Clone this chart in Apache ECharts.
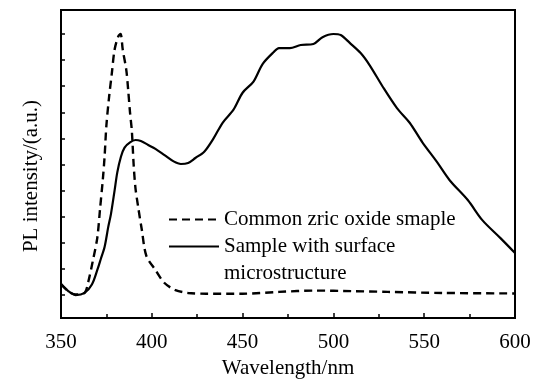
<!DOCTYPE html>
<html>
<head>
<meta charset="utf-8">
<script src="https://cdn.jsdelivr.net/npm/echarts@6/dist/echarts.min.js"></script>
<style>
  html, body { margin: 0; padding: 0; background: #fff; }
  #container { width: 535px; height: 379px; }
</style>
</head>
<body>
<div id="container"></div>
<script>
// common sample (dashed)
const commonWl = [350, 354, 358, 363, 365, 367.5, 370, 371.5, 373, 374, 375, 376.5, 378, 379.5, 381.5, 382.8,
  384, 386, 387, 388, 389, 390, 391, 392.5, 394.5, 397, 402, 407, 413, 420, 430, 450, 470, 490, 510, 530, 560, 600];
const commonInt = [0.42, 0.15, 0.02, 0.08, 0.5, 1.3, 2.2, 3.3, 4.4, 5.3, 6.5, 7.6, 8.5, 9.4, 9.9, 10.0,
  9.4, 8.6, 7.85, 7.0, 6.3, 5.0, 4.1, 3.37, 2.5, 1.5, 0.96, 0.46, 0.19, 0.08, 0.05, 0.05, 0.12, 0.17, 0.15, 0.12, 0.08, 0.06];

// sample with surface microstructure (solid)
const microWl = [350, 354, 358, 363, 367, 370, 372, 374, 376, 377.5, 379.5, 381, 383, 385, 388, 391, 394, 398,
  402, 407, 412, 416, 420, 424, 429, 434, 439, 445, 450, 456, 461, 467, 470, 476, 482, 489, 494, 500, 504,
  509, 515, 520, 527, 535, 542, 549, 557, 564, 574, 582, 592, 600];
const microInt = [0.42, 0.15, 0.0, 0.08, 0.4, 0.96, 1.4, 1.84, 2.6, 3.1, 4.0, 4.7, 5.3, 5.65, 5.85, 5.94, 5.9, 5.75,
  5.6, 5.36, 5.12, 5.02, 5.06, 5.25, 5.5, 6.0, 6.6, 7.1, 7.75, 8.18, 8.85, 9.3, 9.46, 9.46, 9.58, 9.62, 9.88, 10.0, 9.96,
  9.66, 9.27, 8.8, 8.0, 7.16, 6.6, 5.85, 5.1, 4.4, 3.64, 2.87, 2.18, 1.61];

const yTicks = [0, 1, 2, 3, 4, 5, 6, 7, 8, 9, 10];
const names = ['Common zric oxide smaple', 'Sample with surface\nmicrostructure'];

const zip = (xs, ys) => xs.map((x, i) => [x, ys[i]]);
const font = 'Liberation Serif';

const dom = document.getElementById('container');
const myChart = echarts.init(dom);
option = {
  animation: false,
  backgroundColor: '#fff',
  grid: {
    left: 61,
    right: 20,
    top: 10,
    bottom: 61,
    outerBoundsMode: 'none',
    containLabel: false,
    show: true,
    borderColor: '#000',
    borderWidth: 2,
  },
  legend: {
    orient: 'vertical',
    left: 163,
    top: 201,
    itemWidth: 50,
    itemHeight: 14,
    itemGap: -27,
    itemStyle: { opacity: 0 },
    textStyle: { fontFamily: font, fontSize: 21, color: '#000', lineHeight: 27 },
    // blank first line keeps the 2nd entry's first line level with its line sample
    formatter: (name) => (name === names[1] ? '\n' + name : name),
    data: names,
  },
  xAxis: {
    type: 'value',
    min: 350,
    max: 600,
    interval: 50,
    name: 'Wavelength/nm',
    nameLocation: 'middle',
    nameGap: 39,
    nameTextStyle: { fontFamily: font, fontSize: 21, color: '#000' },
    axisLine: { onZero: false, lineStyle: { color: '#000', width: 2 } },
    axisTick: { inside: true, length: 5, lineStyle: { color: '#000', width: 1.5 } },
    minorTick: { show: true, splitNumber: 2, length: 4, lineStyle: { color: '#000', width: 1.5 } },
    axisLabel: { fontFamily: font, fontSize: 21, color: '#000', margin: 14 },
    splitLine: { show: false },
  },
  yAxis: {
    type: 'value',
    min: -0.88,
    max: 10.92,
    name: 'PL intensity/(a.u.)',
    nameLocation: 'middle',
    nameGap: 19,
    nameTextStyle: { fontFamily: font, fontSize: 21, color: '#000', padding: [0, 24, 0, 0] },
    axisLine: { show: true, onZero: false, lineStyle: { color: '#000', width: 2 } },
    axisTick: { show: true, inside: true, length: 4, customValues: yTicks, lineStyle: { color: '#000', width: 1.5 } },
    axisLabel: { show: false },
    splitLine: { show: false },
  },
  series: [
    {
      name: names[0],
      type: 'line',
      smooth: 0.3,
      symbol: 'none',
      lineStyle: { color: '#000', width: 2.4, type: [8, 5] },
      itemStyle: { color: '#000' },
      data: zip(commonWl, commonInt),
    },
    {
      name: names[1],
      type: 'line',
      smooth: 0.3,
      symbol: 'none',
      lineStyle: { color: '#000', width: 2.2 },
      itemStyle: { color: '#000' },
      data: zip(microWl, microInt),
    },
  ],
};

if (option && typeof option === 'object') {
  myChart.setOption(option, true);
}
</script>
</body>
</html>
